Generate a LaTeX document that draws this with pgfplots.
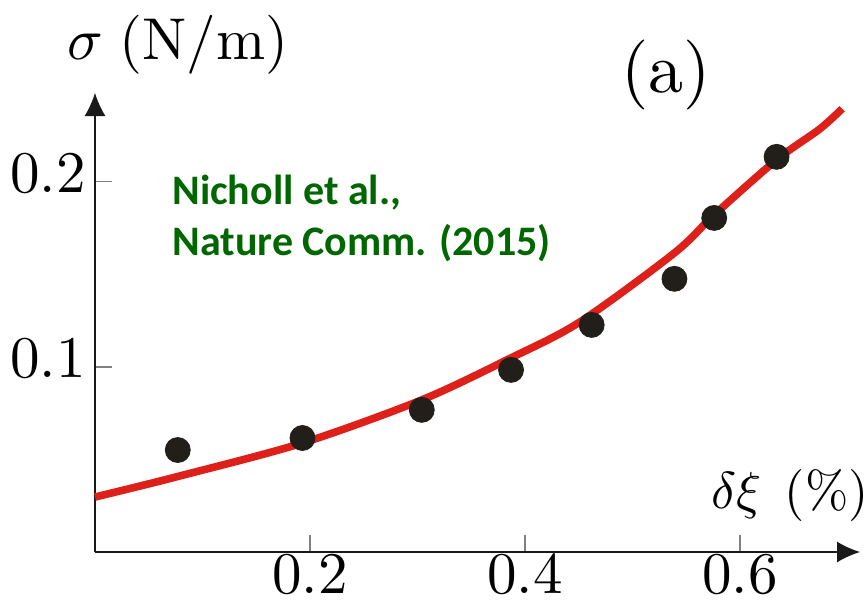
\documentclass[border=0pt]{standalone}
\usepackage{pgfplots}
\pgfplotsset{compat=1.18}
\usepackage{fontspec}
\usetikzlibrary{arrows.meta}
\newfontfamily\notesans{Carlito}
\definecolor{fitred}{RGB}{222,32,27}
\definecolor{dotblack}{RGB}{34,31,26}
\definecolor{refgreen}{RGB}{0,102,0}

\begin{document}
\begin{tikzpicture}
\begin{axis}[
  at={(0,0)}, anchor=south west,
  scale only axis, width=382.5pt, height=229.5pt,
  xmin=0, xmax=0.7116, ymin=0, ymax=0.248,
  axis lines=left,
  axis line style={line width=0.65pt, black!90, -{Latex[length=11.5pt,width=10.5pt]}},
  xtick={0.2,0.4,0.6}, ytick={0.1,0.2},
  tick align=inside, major tick length=8.5pt,
  tick style={gray, line width=0.6pt},
  ticklabel style={font=\fontsize{10}{12}\selectfont, scale=2.95, transform shape},
  xticklabel style={inner sep=0.4pt},
  yticklabel style={inner sep=0.4pt, xshift=-1pt, yshift=1.5pt},
  clip=false,
]
% fitted tension curve
\addplot[fitred, line width=3.8pt, smooth] coordinates {
  (0.000,0.0297) (0.077,0.0408) (0.193,0.0589)
  (0.304,0.0822) (0.387,0.1049) (0.451,0.1243) (0.539,0.1616)
  (0.576,0.1822) (0.634,0.2119) (0.674,0.2285) (0.695,0.2395)
};
% measured points
\addplot[only marks, mark=*, mark size=6.25pt,
  mark options={fill=dotblack, draw=dotblack}] coordinates {
  (0.077,0.0551) (0.193,0.0616) (0.304,0.0768) (0.387,0.0984)
  (0.462,0.1227) (0.539,0.1476) (0.576,0.1805) (0.634,0.2135)
};
\end{axis}
\node[font=\fontsize{10}{12}\selectfont, scale=2.95, transform shape]
  at (41.5pt,253.5pt) {$\sigma\hspace{0.28em}(\mathrm{N/m})$};
\node[font=\fontsize{10}{12}\selectfont, scale=3.5, transform shape]
  at (285.5pt,238.5pt) {(a)};
\node[font=\fontsize{10}{12}\selectfont, scale=2.6, transform shape]
  at (347.5pt,28.5pt) {$\delta\xi$\hspace{0.45em}(\%)};
\node[anchor=base west, inner sep=0pt, text=refgreen,
  font=\notesans\bfseries\fontsize{21}{24}\selectfont] at (38.5pt,174pt) {Nicholl et al.,};
\node[anchor=base west, inner sep=0pt, text=refgreen,
  font=\notesans\bfseries\fontsize{21}{24}\selectfont] at (38.5pt,148.5pt) {Nature Comm. (2015)};
\pgfresetboundingbox
\path (-47.5pt,-27.5pt) rectangle (386pt,276pt);
\end{tikzpicture}
\end{document}
